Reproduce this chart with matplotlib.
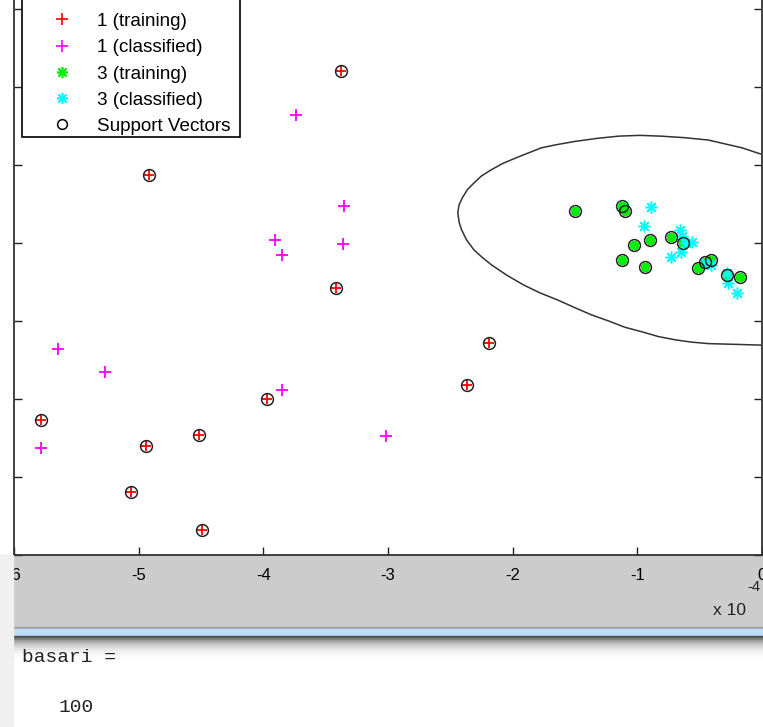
import matplotlib
matplotlib.use("Agg")
import matplotlib.pyplot as plt
from matplotlib.lines import Line2D
from matplotlib.patches import Rectangle

plt.rcParams["font.family"] = ["Liberation Sans", "DejaVu Sans"]
plt.rcParams["axes.unicode_minus"] = False

# ---------------------------------------------------------------------------
# data (x in units of 1e-4, y in tick units; y tick labels are cropped away)
# ---------------------------------------------------------------------------
train1_x = [-3.38, -4.92, -3.42, -2.19, -2.37, -3.97, -5.78, -4.52, -4.94, -5.06, -4.49]
train1_y = [6.21, 4.87, 3.42, 2.72, 2.18, 2.00, 1.73, 1.54, 1.40, 0.81, 0.32]

class1_x = [-3.74, -3.35, -3.91, -3.36, -3.85, -5.65, -5.27, -3.85, -3.02, -5.78]
class1_y = [5.64, 4.47, 4.04, 3.99, 3.85, 2.64, 2.35, 2.12, 1.53, 1.37]

train3_x = [-1.50, -1.12, -1.10, -1.03, -0.90, -1.12, -0.94, -0.73, -0.63, -0.51,
            -0.46, -0.41, -0.28, -0.18]
train3_y = [4.41, 4.47, 4.41, 3.97, 4.04, 3.78, 3.69, 4.08, 4.00, 3.68,
            3.76, 3.78, 3.59, 3.56]

class3_x = [-0.89, -0.95, -0.66, -0.64, -0.61, -0.56, -0.65, -0.73, -0.45, -0.41,
            -0.28, -0.27, -0.20]
class3_y = [4.46, 4.22, 4.17, 4.09, 4.00, 4.01, 3.89, 3.82, 3.74, 3.72,
            3.62, 3.49, 3.36]

# all training points are support vectors here
sv_x = train1_x + train3_x
sv_y = train1_y + train3_y

# decision boundary
bound_x = [0.01, -0.16, -0.43, -0.62, -0.81, -0.98, -1.15, -1.33, -1.51, -1.65,
           -1.77, -1.96, -2.08, -2.17, -2.25, -2.31, -2.36, -2.40, -2.43, -2.44,
           -2.43, -2.41, -2.37, -2.31, -2.24, -2.17, -2.05, -1.91, -1.78, -1.64,
           -1.50, -1.37, -1.23, -1.10, -0.96, -0.83, -0.70, -0.57, -0.43, -0.20, 0.01]
bound_y = [5.13, 5.22, 5.32, 5.35, 5.37, 5.38, 5.37, 5.34, 5.30, 5.26,
           5.22, 5.10, 5.02, 4.94, 4.86, 4.77, 4.69, 4.59, 4.49, 4.39,
           4.27, 4.17, 4.04, 3.91, 3.81, 3.72, 3.59, 3.46, 3.36, 3.27,
           3.17, 3.08, 3.00, 2.92, 2.86, 2.80, 2.76, 2.73, 2.71, 2.70, 2.69]

xticks = [-6, -5, -4, -3, -2, -1, 0]
yticks = [0, 1, 2, 3, 4, 5, 6, 7]

W, H = 763, 727


def fx(px):
    return px / W


def fy(py):
    return 1 - py / H


fig = plt.figure(figsize=(W / 100, H / 100), dpi=100, facecolor="white")

# MATLAB figure background band + command window separator
fig.add_artist(Rectangle((fx(0), fy(628)), 1, fy(555) - fy(628),
                         transform=fig.transFigure, color="#cccccc", zorder=-5))
fig.add_artist(Rectangle((fx(0), fy(629)), 1, fy(627) - fy(629),
                         transform=fig.transFigure, color="#a0a0a0", zorder=-4))
fig.add_artist(Rectangle((fx(0), fy(637)), 1, fy(629) - fy(637),
                         transform=fig.transFigure, color="#bcdcf8", zorder=-4))
shade = ["#505050", "#7a7a7a", "#9c9c9c", "#b6b6b6", "#c9c9c9", "#d8d8d8",
         "#e4e4e4", "#ededed", "#f4f4f4", "#f9f9f9", "#fcfcfc"]
for i, c in enumerate(shade):
    fig.add_artist(Rectangle((fx(0), fy(638 + 2 * i)), 1, 2 / H,
                             transform=fig.transFigure, color=c, zorder=-4))

ax = fig.add_axes([fx(14), fy(555), fx(762) - fx(14), (555 + 15) / H])
ax.set_xlim(-6, 0)
ax.set_ylim(0, 570 / 78)

ax.plot(bound_x, bound_y, color="#333333", lw=1.1, zorder=2)
ax.plot(train1_x, train1_y, "+", color="red", ms=6.5, mew=1.3, zorder=3)
ax.plot(class1_x, class1_y, "+", color="magenta", ms=8.5, mew=1.3, zorder=3)
ax.plot(train3_x, train3_y, ls="none", marker=(8, 2, 0), color="#00ee00",
        ms=6.5, mew=2.4, zorder=3)
ax.plot(class3_x, class3_y, ls="none", marker=(8, 2, 0), color="cyan",
        ms=8.5, mew=1.1, zorder=4)
ax.plot(sv_x, sv_y, "o", mfc="none", mec="#222222", ms=8.5, mew=1.1, zorder=5)

ax.set_xticks(xticks)
ax.set_xticklabels([str(t) for t in xticks])
ax.set_yticks(yticks)
ax.set_yticklabels([])
ax.tick_params(direction="in", length=6, width=1, top=True, right=True,
               labelsize=12, pad=9, color="#222222")
for s in ax.spines.values():
    s.set_linewidth(1.3)
    s.set_color("#333333")

# legend box: its top runs past the cropped edge of the screenshot
fig.add_artist(Rectangle((fx(22), fy(137)), fx(240) - fx(22), 0.3,
                         transform=fig.transFigure, facecolor="white",
                         edgecolor="black", lw=1.2, zorder=4))

handles = [
    Line2D([], [], ls="none", marker="+", color="red", ms=8, mew=1.2),
    Line2D([], [], ls="none", marker="+", color="magenta", ms=8, mew=1.2),
    Line2D([], [], ls="none", marker=(8, 2, 0), color="#00ee00", ms=8, mew=1.2),
    Line2D([], [], ls="none", marker=(8, 2, 0), color="cyan", ms=8, mew=1.2),
    Line2D([], [], ls="none", marker="o", mfc="none", mec="black", ms=7, mew=1.1),
]
labels = ["1 (training)", "1 (classified)", "3 (training)", "3 (classified)",
          "Support Vectors"]
leg = fig.legend(handles, labels, loc="lower left",
                 bbox_to_anchor=(fx(27), fy(137)), fontsize=13.6, frameon=False,
                 handlelength=3.5, handletextpad=0.1, labelspacing=0.48,
                 borderpad=0.1, borderaxespad=0)
leg.set_zorder(6)

# exponent label in MATLAB style
fig.text(fx(713), fy(615), "x 10", fontsize=12.5, color="#222222",
         ha="left", va="baseline")
fig.text(fx(747), fy(591), "-4", fontsize=10.5, color="#222222",
         ha="left", va="baseline")

# window border strip on the left
fig.add_artist(Rectangle((0, 0), fx(13), fy(555), transform=fig.transFigure,
                         color="#f0f0f0", zorder=20))

# command window text
fig.text(fx(22), fy(662), "basari =", family="Liberation Mono", fontsize=14,
         color="#222222", ha="left", va="baseline")
fig.text(fx(59), fy(712), "100", family="Liberation Mono", fontsize=14,
         color="#222222", ha="left", va="baseline")

fig.savefig("out.png", dpi=100, facecolor="white")
